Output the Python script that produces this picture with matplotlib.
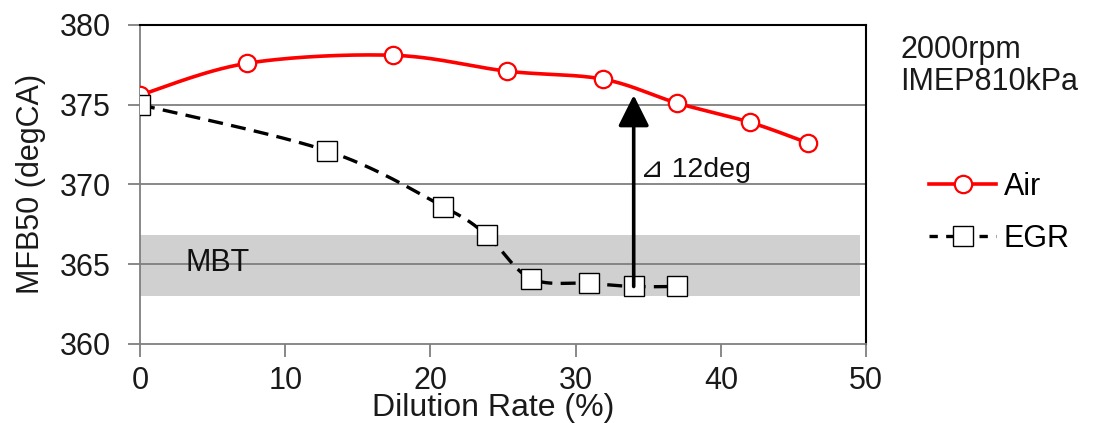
import numpy as np
import matplotlib
matplotlib.use("Agg")
import matplotlib.pyplot as plt

plt.rcParams['font.family'] = ['Liberation Sans', 'DejaVu Sans']

# Dilution rate (%) and MFB50 (degCA)
air_x = [0, 7.4, 17.4, 25.3, 31.9, 37.0, 42.0, 46.0]
air_y = [375.6, 377.6, 378.1, 377.1, 376.6, 375.1, 373.9, 372.6]
egr_x = [0, 12.9, 20.9, 23.9, 26.9, 30.9, 34.0, 37.0]
egr_y = [375.0, 372.1, 368.6, 366.8, 364.1, 363.8, 363.6, 363.6]

mbt_range = (363.0, 366.8)
mbt_xmax = 49.6
delta_x = 34.0
delta_from = 363.6
delta_to = 375.6

x_ticks = [0, 10, 20, 30, 40, 50]
y_ticks = [360, 365, 370, 375, 380]


def smooth(xs, ys, n=30):
    """Cubic Bezier smoothing through every point (Catmull-Rom style)."""
    p = np.column_stack([xs, ys]).astype(float)
    ext = np.vstack([p[0], p, p[-1]])
    out = []
    t = np.linspace(0, 1, n)[:, None]
    for i in range(1, len(ext) - 2):
        p0, p1, p2, p3 = ext[i - 1], ext[i], ext[i + 1], ext[i + 2]
        c1 = p1 + (p2 - p0) / 6.0
        c2 = p2 - (p3 - p1) / 6.0
        seg = ((1 - t) ** 3) * p1 + 3 * ((1 - t) ** 2) * t * c1 \
            + 3 * (1 - t) * t ** 2 * c2 + t ** 3 * p2
        out.append(seg if i == 1 else seg[1:])
    s = np.vstack(out)
    return s[:, 0], s[:, 1]


fig = plt.figure(figsize=(10.94, 4.23), dpi=100)
ax = fig.add_axes([0.128, 0.187, 0.6636, 0.754])

ax.set_xlim(0, 50)
ax.set_ylim(360, 380)

# MBT band
ax.axhspan(mbt_range[0], mbt_range[1], xmin=0, xmax=mbt_xmax / 50,
           color='#d0d0d0', zorder=0.5, lw=0)
ax.text(3.1, 365.1, 'MBT', fontsize=22, va='center', ha='left',
        color='#111111', zorder=3)

# grid
for yv in y_ticks[1:-1]:
    ax.axhline(yv, color='#7f7f7f', lw=1.3, zorder=1)

# series
sx, sy = smooth(air_x, air_y)
ax.plot(sx, sy, color='#ff0000', lw=2.6, zorder=4)
ax.plot(air_x, air_y, ls='none', marker='o', ms=12.5, mfc='white',
        mec='#ff0000', mew=1.6, zorder=5)
ex, ey = smooth(egr_x, egr_y)
ax.plot(ex, ey, color='black', lw=2.4, ls=(0, (4.5, 2.5)), zorder=4)
ax.plot(egr_x, egr_y, ls='none', marker='s', ms=14, mfc='white',
        mec='black', mew=1.0, zorder=5)

# legend proxies
air_h, = ax.plot([], [], color='#ff0000', lw=2.6, marker='o', ms=12.5,
                 mfc='white', mec='#ff0000', mew=1.6)
egr_h, = ax.plot([], [], color='black', lw=2.4, ls=(0, (2.5, 2.5)),
                 marker='s', ms=14, mfc='white', mec='black', mew=1.0)

# delta arrow
ax.annotate('', xy=(delta_x, delta_to), xytext=(delta_x, delta_from),
            arrowprops=dict(arrowstyle='-|>,head_length=1.0,head_width=0.5',
                            lw=2.6, color='black', mutation_scale=19,
                            shrinkA=0, shrinkB=0), zorder=6)
ax.text(delta_x + 0.45, 370.9, '⊿ 12deg', fontsize=20.5, va='center',
        ha='left', color='#111111', zorder=6)

# axes styling
ax.set_xticks(x_ticks)
ax.set_yticks(y_ticks)
ax.tick_params(axis='both', direction='out', length=9, width=1.3,
               color='#7f7f7f', labelsize=22, labelcolor='#1a1a1a')
ax.tick_params(axis='y', pad=12)
ax.tick_params(axis='x', pad=7)
for side in ('left', 'bottom'):
    ax.spines[side].set_color('#7f7f7f')
    ax.spines[side].set_linewidth(1.3)
for side in ('top', 'right'):
    ax.spines[side].set_color('black')
    ax.spines[side].set_linewidth(1.5)

ax.set_xlabel('Dilution Rate (%)', fontsize=23, color='#1a1a1a')
ax.xaxis.set_label_coords(0.487, -0.155, transform=ax.transAxes)
ax.xaxis.label.set_va('top')
ax.set_ylabel('MFB50 (degCA)', fontsize=22, color='#1a1a1a', labelpad=10)

fig.text(900 / 1094, 1 - 66 / 423, '2000rpm\nIMEP810kPa', fontsize=22,
         va='center', ha='left', color='#1a1a1a', linespacing=1.12)

fig.legend([air_h, egr_h], ['Air', 'EGR'], loc='upper left',
           bbox_to_anchor=(929 / 1094, 1 - 172 / 423), frameon=False,
           fontsize=22, handlelength=2.2, handletextpad=0.25,
           labelspacing=0.72, borderpad=0, borderaxespad=0)

fig.savefig('out.png', dpi=100)
